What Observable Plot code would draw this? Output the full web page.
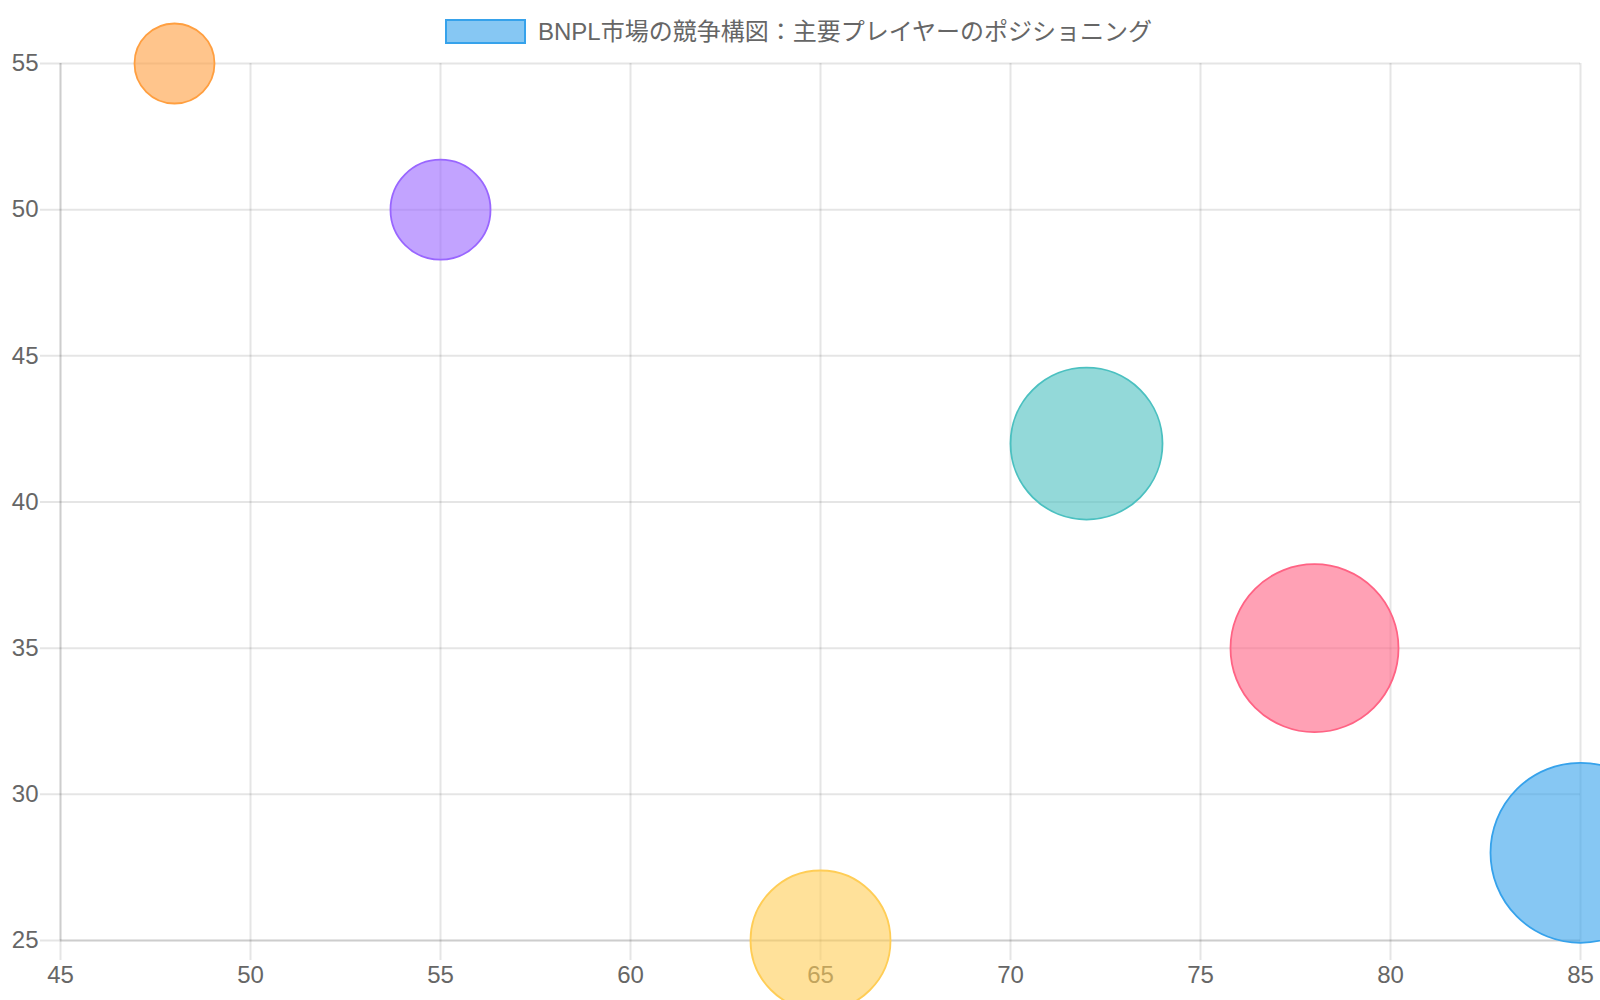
<!DOCTYPE html>
<html>
<head>
<meta charset="utf-8">
<script src="https://cdn.jsdelivr.net/npm/d3@7"></script>
<script src="https://cdn.jsdelivr.net/npm/@observablehq/plot@0.6"></script>
<style>
  html, body { margin: 0; padding: 0; background: #fff; overflow: hidden; }
  #wrap { position: relative; width: 1600px; height: 1000px; }
  #legend {
    position: absolute; top: 19px; left: 445px;
    display: flex; align-items: center; height: 25px;
    font-family: "Helvetica Neue", Helvetica, Arial, "Liberation Sans", "Noto Sans CJK JP", sans-serif;
    font-size: 24px; color: #666; white-space: nowrap; z-index: 2;
  }
  #legend .box {
    box-sizing: border-box; width: 81px; height: 25px;
    border: 2px solid rgb(54,162,235); background: rgba(54,162,235,0.6);
  }
  #legend .label { margin-left: 12px; line-height: 25px; }
</style>
</head>
<body>
<div id="wrap">
  <div id="legend"><div class="box"></div><div class="label"></div></div>
  <div id="chart"></div>
</div>
<script>
const title = "BNPL市場の競争構図：主要プレイヤーのポジショニング";
const xTicks = [45, 50, 55, 60, 65, 70, 75, 80, 85];
const yTicks = [25, 30, 35, 40, 45, 50, 55];
const xs = [85, 78, 72, 65, 55, 48];
const ys = [28, 35, 42, 25, 50, 55];
const sizes = [45, 42, 38, 35, 25, 20];
const colors = ["rgb(54,162,235)", "rgb(255,99,132)", "rgb(75,192,192)", "rgb(255,205,86)", "rgb(153,102,255)", "rgb(255,159,64)"];

const points = xs.map((x, i) => ({x, y: ys[i], r: sizes[i], c: colors[i]}));

document.querySelector("#legend .label").textContent = title;

const font = '"Helvetica Neue", Helvetica, Arial, "Liberation Sans", "Noto Sans CJK JP", sans-serif';
const grid = "rgba(0,0,0,0.1)";

const chart = Plot.plot({
  width: 1600,
  height: 1000,
  marginTop: 63,
  marginBottom: 60,
  marginLeft: 60,
  marginRight: 20,
  x: {domain: [45, 85]},
  y: {domain: [25, 55]},
  r: {type: "linear", domain: [0, 45], range: [0, 90]},
  color: {type: "identity"},
  style: {fontFamily: font, fontSize: "24px", color: "#666", background: "#fff"},
  marks: [
    Plot.ruleX(xTicks, {x: d => d, stroke: grid, strokeWidth: 2, insetBottom: -20}),
    Plot.ruleY(yTicks, {y: d => d, stroke: grid, strokeWidth: 2, insetLeft: -20}),
    Plot.ruleX([45], {x: d => d, stroke: "rgba(0,0,0,0.1)", strokeWidth: 2}),
    Plot.ruleY([25], {y: d => d, stroke: "rgba(0,0,0,0.1)", strokeWidth: 2}),
    Plot.axisX({ticks: xTicks, tickSize: 0, tickPadding: 25, label: null, fill: "#666", fontSize: 24}),
    Plot.axisY({ticks: yTicks, tickSize: 0, tickPadding: 22, label: null, fill: "#666", fontSize: 24}),
    Plot.dot(points, {x: "x", y: "y", r: "r", fill: "c", fillOpacity: 0.6, stroke: "c", strokeWidth: 1.8})
  ]
});
document.getElementById("chart").appendChild(chart);
</script>
</body>
</html>
